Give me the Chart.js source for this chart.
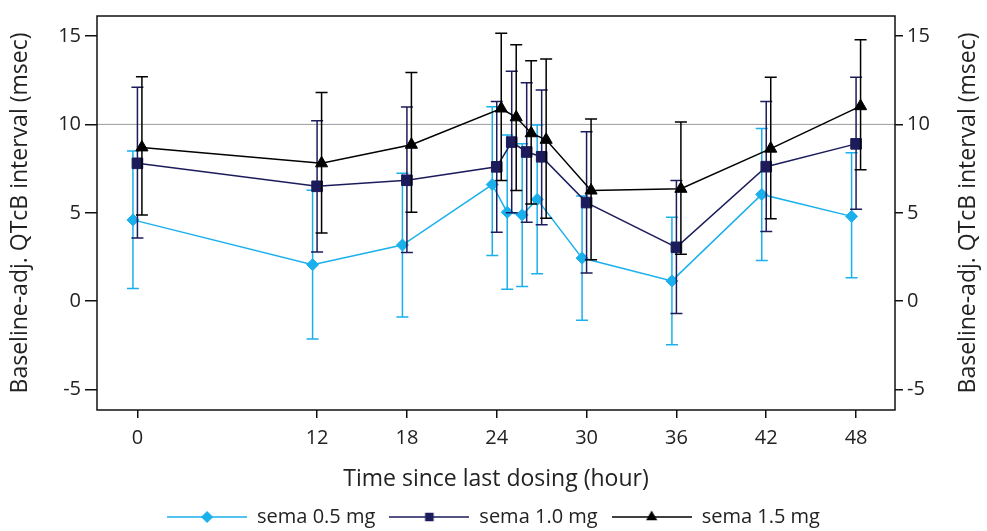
<!DOCTYPE html>
<html>
<head>
<meta charset="utf-8">
<script src="https://cdn.jsdelivr.net/npm/chart.js@4.4.1/dist/chart.umd.min.js"></script>
<style>
  html, body { margin: 0; padding: 0; background: #fff; }
  #wrap { width: 987px; height: 531px; }
</style>
</head>
<body>
<div id="wrap"><canvas id="qtcChart" width="987" height="531"></canvas></div>
<script>
// tempo (h) desde a última dose
const times = [0, 12, 18, 24, 25, 26, 27, 30, 36, 42, 48];
const xTicks = [0, 12, 18, 24, 30, 36, 42, 48];
const yTicks = [-5, 0, 5, 10, 15];
const seriesNames = ['sema 0.5 mg', 'sema 1.0 mg', 'sema 1.5 mg'];

// médias e intervalos
const sema05Mean = [4.6, 2.07, 3.18, 6.6, 5.03, 4.88, 5.76, 2.44, 1.15, 6.04, 4.8];
const sema05Low  = [0.72, -2.14, -0.89, 2.59, 0.68, 0.83, 1.55, -1.07, -2.46, 2.31, 1.33];
const sema05High = [8.5, 6.27, 7.24, 11.0, 9.4, 8.9, 9.96, 5.95, 4.75, 9.77, 8.39];

const sema10Mean = [7.8, 6.5, 6.84, 7.6, 9.0, 8.44, 8.17, 5.58, 3.05, 7.61, 8.9];
const sema10Low  = [3.58, 2.79, 2.75, 3.9, 5.0, 4.47, 4.32, 1.6, -0.7, 3.95, 5.2];
const sema10High = [12.1, 10.2, 10.98, 11.3, 13.0, 12.36, 11.95, 9.59, 6.83, 11.3, 12.66];

const sema15Mean = [8.7, 7.8, 8.85, 10.9, 10.4, 9.5, 9.13, 6.26, 6.36, 8.63, 11.03];
const sema15Low  = [4.88, 3.86, 5.03, 6.83, 6.26, 5.5, 4.69, 2.35, 2.66, 4.66, 7.43];
const sema15High = [12.7, 11.8, 12.93, 15.15, 14.5, 13.6, 13.7, 10.3, 10.14, 12.66, 14.78];

const refLineValue = 10;

// estilos
const FONT = '"Open Sans", "Noto Sans", sans-serif';
const TEXT = '#222';
const dodge = [-0.3, 0, 0.3];
const colors = ['#1ab0ec', '#1c1c5c', '#000000'];
const markers = ['rectRot', 'rect', 'triangle'];
const markerRadius = [6, 7.5, 7];
const yTitle = 'Baseline-adj. QTcB interval (msec)';
const capHalf = 6;

function points(means, k) {
  return times.map((t, i) => ({ x: t + dodge[k], y: means[i] }));
}

// imagem da legenda: linha com o marcador no meio
function legendImage(k) {
  const c = document.createElement('canvas');
  c.width = 80; c.height = 14;
  const g = c.getContext('2d');
  g.strokeStyle = colors[k];
  g.lineWidth = 1.5;
  g.beginPath(); g.moveTo(0, 7); g.lineTo(80, 7); g.stroke();
  Chart.helpers.drawPoint(g, {
    pointStyle: markers[k], radius: 5, rotation: 0, borderWidth: 1
  }, 40, 7);
  g.fillStyle = colors[k];
  g.fill();
  return c;
}

const errorBarPlugin = {
  id: 'errorBars',
  beforeDatasetDraw(chart, args) {
    const ds = chart.data.datasets[args.index];
    if (!ds.errLow) return;
    const y = chart.scales.y;
    const ctx = chart.ctx;
    ctx.save();
    ctx.strokeStyle = ds.borderColor;
    ctx.lineWidth = 1.5;
    args.meta.data.forEach((pt, i) => {
      const top = y.getPixelForValue(ds.errHigh[i]);
      const bot = y.getPixelForValue(ds.errLow[i]);
      ctx.beginPath();
      ctx.moveTo(pt.x, top); ctx.lineTo(pt.x, bot);
      ctx.moveTo(pt.x - capHalf, top); ctx.lineTo(pt.x + capHalf, top);
      ctx.moveTo(pt.x - capHalf, bot); ctx.lineTo(pt.x + capHalf, bot);
      ctx.stroke();
    });
    ctx.restore();
  }
};

const framePlugin = {
  id: 'frame',
  beforeDatasetsDraw(chart) {
    const { ctx, chartArea: a, scales: { y } } = chart;
    const py = y.getPixelForValue(refLineValue);
    ctx.save();
    ctx.strokeStyle = '#9a9a9a';
    ctx.lineWidth = 1;
    ctx.beginPath(); ctx.moveTo(a.left, py); ctx.lineTo(a.right, py); ctx.stroke();
    ctx.restore();
  },
  afterDraw(chart) {
    const { ctx, chartArea: a } = chart;
    ctx.save();
    ctx.strokeStyle = '#111';
    ctx.lineWidth = 1.5;
    ctx.strokeRect(a.left, a.top, a.right - a.left, a.bottom - a.top);
    // título do eixo direito, lido de baixo para cima como o esquerdo
    ctx.translate(968, (a.top + a.bottom) / 2);
    ctx.rotate(-Math.PI / 2);
    ctx.fillStyle = TEXT;
    ctx.font = '23px ' + FONT;
    ctx.textAlign = 'center';
    ctx.textBaseline = 'middle';
    ctx.fillText(yTitle, 0, 0);
    ctx.restore();
  }
};

const meansList = [sema05Mean, sema10Mean, sema15Mean];
const lowList = [sema05Low, sema10Low, sema15Low];
const highList = [sema05High, sema10High, sema15High];

const datasets = seriesNames.map((name, k) => ({
  label: name,
  data: points(meansList[k], k),
  errLow: lowList[k],
  errHigh: highList[k],
  borderColor: colors[k],
  backgroundColor: colors[k],
  borderWidth: 1.5,
  pointStyle: markers[k],
  pointRadius: markerRadius[k],
  pointBorderWidth: 1,
  pointBorderColor: colors[k],
  tension: 0,
  order: 3 - k,
  legendImg: legendImage(k)
}));

const yScale = (pos, width, tickLen) => ({
  type: 'linear',
  position: pos,
  min: -6.15,
  max: 16.13,
  afterBuildTicks: s => { s.ticks = yTicks.map(v => ({ value: v })); },
  afterFit: s => { s.width = width; },
  border: { display: false },
  grid: { drawOnChartArea: false, drawTicks: true, tickLength: tickLen, color: '#111', lineWidth: 1.5 },
  ticks: { color: TEXT, font: { family: FONT, size: 20 }, padding: 4 },
  title: {
    display: pos === 'left',
    text: yTitle,
    color: TEXT,
    font: { family: FONT, size: 23 },
    padding: { top: 7, bottom: 4 }
  }
});

new Chart(document.getElementById('qtcChart'), {
  type: 'line',
  data: { datasets },
  options: {
    responsive: false,
    animation: false,
    layout: { padding: { top: 8, left: 0, right: 0, bottom: 0 } },
    scales: {
      x: {
        type: 'linear',
        min: -2.7,
        max: 50.6,
        afterBuildTicks: s => { s.ticks = xTicks.map(v => ({ value: v })); },
        afterFit: s => { s.height = 83; },
        border: { display: false },
        grid: { drawOnChartArea: false, drawTicks: true, tickLength: 8, color: '#111', lineWidth: 1.5 },
        ticks: { color: TEXT, font: { family: FONT, size: 20 }, padding: 8, maxRotation: 0 },
        title: {
          display: true,
          text: 'Time since last dosing (hour)',
          color: TEXT,
          font: { family: FONT, size: 23, lineHeight: 1 },
          padding: { top: 0, bottom: 2 }
        }
      },
      y: yScale('left', 97, 12),
      y2: yScale('right', 92, 8)
    },
    plugins: {
      tooltip: { enabled: false },
      legend: {
        position: 'bottom',
        maxHeight: 38,
        labels: {
          usePointStyle: true,
          pointStyleWidth: 80,
          boxHeight: 14,
          padding: 14,
          color: TEXT,
          font: { family: FONT, size: 20 },
          generateLabels: chart => chart.data.datasets.map((ds, i) => ({
            text: ds.label,
            pointStyle: ds.legendImg,
            fontColor: TEXT,
            lineWidth: 0,
            strokeStyle: ds.borderColor,
            fillStyle: ds.borderColor,
            datasetIndex: i,
            hidden: false
          }))
        }
      }
    }
  },
  plugins: [errorBarPlugin, framePlugin]
});
</script>
</body>
</html>
